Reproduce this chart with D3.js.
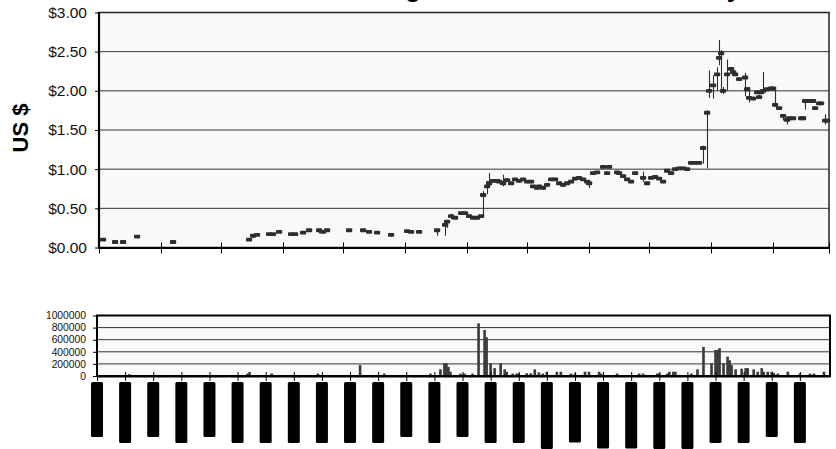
<!DOCTYPE html>
<html>
<head>
<meta charset="utf-8">
<script src="https://cdn.jsdelivr.net/npm/d3@7"></script>
<style>
  body { margin: 0; background: #fff; }
  svg { display: block; font-family: "Liberation Sans", Arial, sans-serif; }
</style>
</head>
<body>
<svg id="svg" width="836" height="449"></svg>
<script>
const titleText = 'Stock Trading Volume and Price History'
const startDate = new Date(2004, 2, 8)
const endDate = new Date(2005, 2, 8)

// trading days, as day offsets from startDate
const priceDays = [2, 8, 12, 19, 37, 75, 77, 79, 85, 87, 90, 96, 98, 102, 105, 110, 112, 114, 125, 132, 135, 139, 146, 154, 156, 160, 169, 173, 174, 176, 178, 181, 183, 185, 187, 189, 191, 192, 194, 195, 197, 199, 200, 202, 204, 206, 208, 210, 212, 214, 216, 217, 219, 220, 222, 224, 226, 228, 230, 232, 234, 236, 238, 240, 242, 244, 245, 247, 249, 252, 254, 255, 259, 260, 262, 264, 266, 268, 272, 274, 276, 278, 280, 282, 284, 286, 288, 290, 292, 294, 296, 298, 300, 302, 304, 305, 307, 309, 310, 311, 312, 314, 316, 317, 318, 320, 323, 324, 325, 327, 329, 330, 331, 332, 334, 336, 337, 338, 340, 342, 344, 345, 347, 351, 352, 353, 355, 357, 358, 360, 361, 363, 364]
const priceClose = [0.10, 0.07, 0.07, 0.14, 0.07, 0.10, 0.15, 0.16, 0.17, 0.17, 0.20, 0.17, 0.17, 0.19, 0.22, 0.22, 0.20, 0.22, 0.22, 0.22, 0.20, 0.19, 0.16, 0.21, 0.20, 0.20, 0.22, 0.29, 0.33, 0.40, 0.38, 0.44, 0.44, 0.40, 0.38, 0.38, 0.40, 0.67, 0.78, 0.82, 0.85, 0.85, 0.84, 0.82, 0.86, 0.82, 0.87, 0.85, 0.87, 0.84, 0.84, 0.78, 0.76, 0.78, 0.76, 0.80, 0.87, 0.87, 0.82, 0.80, 0.82, 0.84, 0.88, 0.89, 0.87, 0.84, 0.82, 0.95, 0.96, 1.03, 0.95, 1.03, 0.96, 0.95, 0.91, 0.87, 0.84, 0.95, 0.89, 0.82, 0.89, 0.90, 0.88, 0.84, 0.98, 0.95, 1.00, 1.01, 1.01, 1.00, 1.08, 1.08, 1.08, 1.27, 1.72, 2.00, 2.07, 2.21, 2.42, 2.48, 2.00, 2.21, 2.28, 2.24, 2.21, 2.15, 2.17, 2.02, 1.91, 1.90, 1.98, 1.92, 1.98, 2.00, 2.02, 2.03, 2.03, 1.82, 1.78, 1.68, 1.63, 1.65, 1.65, 1.65, 1.65, 1.87, 1.87, 1.87, 1.78, 1.84, 1.84, 1.62, 1.62]
const priceHigh = [0.10, 0.07, 0.07, 0.15, 0.07, 0.12, 0.17, 0.17, 0.18, 0.18, 0.21, 0.17, 0.17, 0.20, 0.23, 0.22, 0.20, 0.22, 0.22, 0.22, 0.21, 0.19, 0.16, 0.22, 0.20, 0.20, 0.22, 0.31, 0.35, 0.43, 0.40, 0.45, 0.44, 0.42, 0.38, 0.39, 0.41, 0.72, 0.85, 0.95, 0.87, 0.86, 0.86, 0.93, 0.88, 0.84, 0.88, 0.86, 0.88, 0.86, 0.85, 0.80, 0.78, 0.80, 0.79, 0.82, 0.88, 0.89, 0.84, 0.82, 0.84, 0.86, 0.90, 0.90, 0.89, 0.86, 0.84, 0.97, 0.98, 1.05, 0.97, 1.04, 0.98, 0.96, 0.93, 0.89, 0.86, 0.96, 0.97, 0.84, 0.91, 0.92, 0.90, 0.86, 1.00, 0.98, 1.02, 1.03, 1.02, 1.02, 1.10, 1.10, 1.09, 1.30, 1.75, 2.26, 2.20, 2.30, 2.65, 2.52, 2.05, 2.40, 2.30, 2.27, 2.24, 2.17, 2.23, 2.05, 2.05, 1.93, 2.01, 1.95, 2.01, 2.24, 2.04, 2.04, 2.05, 2.02, 1.80, 1.70, 1.66, 1.67, 1.67, 1.66, 1.67, 1.89, 1.89, 1.89, 1.80, 1.86, 1.86, 1.70, 1.64]
const priceLow = [0.09, 0.06, 0.06, 0.13, 0.06, 0.09, 0.12, 0.15, 0.16, 0.16, 0.19, 0.16, 0.16, 0.18, 0.21, 0.18, 0.19, 0.21, 0.21, 0.21, 0.19, 0.18, 0.14, 0.20, 0.19, 0.19, 0.15, 0.15, 0.25, 0.36, 0.37, 0.42, 0.42, 0.39, 0.36, 0.37, 0.39, 0.40, 0.68, 0.76, 0.83, 0.83, 0.82, 0.78, 0.84, 0.80, 0.85, 0.83, 0.85, 0.82, 0.82, 0.76, 0.74, 0.76, 0.74, 0.78, 0.85, 0.85, 0.80, 0.77, 0.80, 0.82, 0.86, 0.87, 0.85, 0.82, 0.76, 0.93, 0.94, 1.01, 0.93, 1.01, 0.94, 0.93, 0.89, 0.85, 0.82, 0.93, 0.84, 0.80, 0.87, 0.88, 0.86, 0.82, 0.96, 0.93, 0.98, 0.99, 0.99, 0.98, 1.06, 1.06, 1.07, 1.07, 1.01, 1.91, 1.90, 2.00, 2.33, 1.97, 1.96, 2.00, 2.26, 2.22, 2.19, 2.13, 1.93, 2.00, 1.85, 1.88, 1.96, 1.90, 1.96, 1.98, 2.00, 2.01, 2.01, 1.80, 1.76, 1.62, 1.57, 1.63, 1.63, 1.63, 1.63, 1.76, 1.85, 1.85, 1.76, 1.82, 1.82, 1.57, 1.60]

const volumeDays = [2, 16, 75, 76, 87, 110, 131, 143, 166, 171, 173, 174, 175, 176, 181, 183, 187, 190, 193, 194, 196, 198, 201, 203, 204, 207, 209, 210, 214, 216, 218, 220, 222, 224, 229, 231, 236, 238, 243, 245, 250, 251, 259, 270, 272, 279, 280, 284, 285, 287, 288, 296, 299, 302, 306, 308, 309, 310, 312, 314, 315, 316, 318, 321, 323, 324, 327, 329, 331, 332, 334, 336, 337, 339, 344, 350, 355, 357, 362]
const volumeValues = [15000, 30000, 40000, 65000, 40000, 40000, 180000, 40000, 40000, 110000, 210000, 210000, 150000, 70000, 40000, 40000, 40000, 870000, 760000, 640000, 210000, 130000, 210000, 110000, 70000, 40000, 40000, 40000, 45000, 45000, 110000, 60000, 40000, 70000, 70000, 70000, 40000, 40000, 70000, 70000, 70000, 40000, 40000, 40000, 40000, 40000, 40000, 40000, 70000, 70000, 70000, 40000, 110000, 480000, 210000, 430000, 430000, 460000, 210000, 320000, 260000, 180000, 110000, 120000, 130000, 130000, 110000, 70000, 130000, 70000, 70000, 70000, 50000, 40000, 70000, 40000, 40000, 40000, 70000]

const priceTicks = [0, 0.5, 1, 1.5, 2, 2.5, 3]
const volumeTicks = [0, 200000, 400000, 600000, 800000, 1000000]
const dateLabels = ['8/3/2004', '22/3/2004', '5/4/2004', '19/4/2004', '3/5/2004', '17/5/2004', '31/5/2004', '14/6/2004', '28/6/2004', '12/7/2004', '26/7/2004', '9/8/2004', '23/8/2004', '6/9/2004', '20/9/2004', '4/10/2004', '18/10/2004', '1/11/2004', '15/11/2004', '29/11/2004', '13/12/2004', '27/12/2004', '10/1/2005', '24/1/2005', '7/2/2005', '21/2/2005']

const dayDate = (d) => d3.timeDay.offset(startDate, d)
const parseLabel = d3.timeParse('%d/%m/%Y')
const fontFamily = '"Liberation Sans", Arial, sans-serif'

const svg = d3.select('#svg')
const frameColor = '#000'
const gridColor = '#333'
const markColor = '#2e2e2e'

// ---------- price panel ----------
const xTop = d3.scaleTime().domain([startDate, endDate]).range([99, 829])
const yTop = d3.scaleLinear().domain([0, 3]).range([247.5, 12.5])

svg.append('rect')
  .attr('x', 99).attr('y', 12.5)
  .attr('width', 730).attr('height', 235)
  .attr('fill', '#f9f9f9')

svg.append('g')
  .selectAll('line')
  .data(priceTicks.slice(1))
  .join('line')
  .attr('x1', 99).attr('x2', 829)
  .attr('y1', d => yTop(d)).attr('y2', d => yTop(d))
  .attr('stroke', gridColor)

const yAxisTop = svg.append('g')
  .attr('transform', 'translate(99,0)')
  .call(d3.axisLeft(yTop).tickValues(priceTicks).tickFormat(d3.format('$.2f')).tickSize(4).tickPadding(8))
yAxisTop.select('.domain').remove()
yAxisTop.selectAll('text').attr('font-size', 15.5).attr('font-family', fontFamily).attr('fill', '#111')
yAxisTop.selectAll('line').attr('stroke', '#000')

// frame
svg.append('rect')
  .attr('x', 99).attr('y', 12.5)
  .attr('width', 730).attr('height', 235)
  .attr('fill', 'none')
  .attr('stroke', '#222').attr('stroke-width', 1.5)
svg.append('line').attr('x1', 99).attr('x2', 99).attr('y1', 12).attr('y2', 248.5).attr('stroke', frameColor).attr('stroke-width', 2.2)

const monthTicks = d3.range(13).map(i => d3.timeMonth.offset(startDate, i))
const xAxisTop = svg.append('g')
  .attr('transform', 'translate(0,247.5)')
  .call(d3.axisBottom(xTop).tickValues(monthTicks).tickFormat('').tickSizeInner(6).tickSizeOuter(0))
xAxisTop.select('.domain').attr('stroke', frameColor).attr('stroke-width', 2.2)
xAxisTop.selectAll('.tick line').attr('y1', -5).attr('stroke', '#000')

// high-low lines and close markers
const priceRows = priceDays.map((d, i) => ({
  date: dayDate(d), high: priceHigh[i], low: priceLow[i], close: priceClose[i]
}))
const marks = svg.append('g')
marks.selectAll('line')
  .data(priceRows)
  .join('line')
  .attr('x1', d => Math.round(xTop(d.date)) + 0.5).attr('x2', d => Math.round(xTop(d.date)) + 0.5)
  .attr('y1', d => yTop(d.high)).attr('y2', d => yTop(d.low))
  .attr('stroke', markColor).attr('stroke-width', 1.1)
marks.selectAll('rect')
  .data(priceRows)
  .join('rect')
  .attr('x', d => xTop(d.date) - 3).attr('y', d => yTop(d.close) - 1.9)
  .attr('width', 6.2).attr('height', 3.8)
  .attr('rx', 1)
  .attr('fill', markColor)

svg.append('text')
  .attr('transform', 'translate(28,128) rotate(-90)')
  .attr('text-anchor', 'middle')
  .attr('font-size', 22).attr('font-weight', 'bold')
  .text('US $')

svg.append('text')
  .attr('x', 249).attr('y', -3)
  .attr('font-size', 26).attr('font-weight', 'bold')
  .text(titleText)

// ---------- volume panel ----------
const xBot = d3.scaleTime().domain([startDate, endDate]).range([97, 830])
const yBot = d3.scaleLinear().domain([0, 1000000]).range([376, 315.5])

svg.append('rect')
  .attr('x', 97).attr('y', 315.5)
  .attr('width', 733).attr('height', 60.5)
  .attr('fill', '#f9f9f9')

svg.append('g')
  .selectAll('line')
  .data(volumeTicks.slice(1))
  .join('line')
  .attr('x1', 97).attr('x2', 830)
  .attr('y1', d => yBot(d)).attr('y2', d => yBot(d))
  .attr('stroke', gridColor)

const yAxisBot = svg.append('g')
  .attr('transform', 'translate(97,0)')
  .call(d3.axisLeft(yBot).tickValues(volumeTicks).tickFormat(d3.format('d')).tickSize(4).tickPadding(7))
yAxisBot.select('.domain').remove()
yAxisBot.selectAll('text').attr('font-size', 10.3).attr('font-family', fontFamily).attr('fill', '#111')
yAxisBot.selectAll('line').attr('stroke', '#000')

svg.append('g')
  .selectAll('rect')
  .data(volumeDays.map((d, i) => ({ date: dayDate(d), value: volumeValues[i] })))
  .join('rect')
  .attr('x', d => xBot(d.date) - 1.3)
  .attr('y', d => yBot(d.value))
  .attr('width', 2.6)
  .attr('height', d => yBot(0) - yBot(d.value))
  .attr('fill', '#3a3a3a')

svg.append('rect')
  .attr('x', 97).attr('y', 315.5)
  .attr('width', 733).attr('height', 60.5)
  .attr('fill', 'none')
  .attr('stroke', frameColor).attr('stroke-width', 2)

const labelDates = dateLabels.map(parseLabel)
const xAxisBot = svg.append('g')
  .attr('transform', 'translate(0,376)')
  .call(d3.axisBottom(xBot).tickValues(labelDates).tickFormat('').tickSizeInner(5).tickSizeOuter(0))
xAxisBot.select('.domain').attr('stroke', frameColor).attr('stroke-width', 2)
xAxisBot.selectAll('.tick line').attr('y1', -4).attr('stroke', '#000')

// rotated date labels: black text on a black block, as they print in the reference
const labelGroups = svg.append('g')
  .selectAll('g')
  .data(dateLabels)
  .join('g')
  .attr('transform', (d, i) => `translate(${xBot(labelDates[i])},388.5) rotate(-90)`)

labelGroups.append('text')
  .attr('text-anchor', 'end')
  .attr('dy', '0.36em')
  .attr('font-size', 10.8)
  .attr('font-weight', 'bold')
  .attr('fill', '#000')
  .text(d => d)

labelGroups.each(function () {
  const g = d3.select(this)
  const bb = g.select('text').node().getBBox()
  g.insert('rect', 'text')
    .attr('x', bb.x - 6.5)
    .attr('y', -6)
    .attr('width', bb.width + 13)
    .attr('height', 12)
    .attr('rx', 1.5)
    .attr('fill', '#000')
})
</script>
</body>
</html>
